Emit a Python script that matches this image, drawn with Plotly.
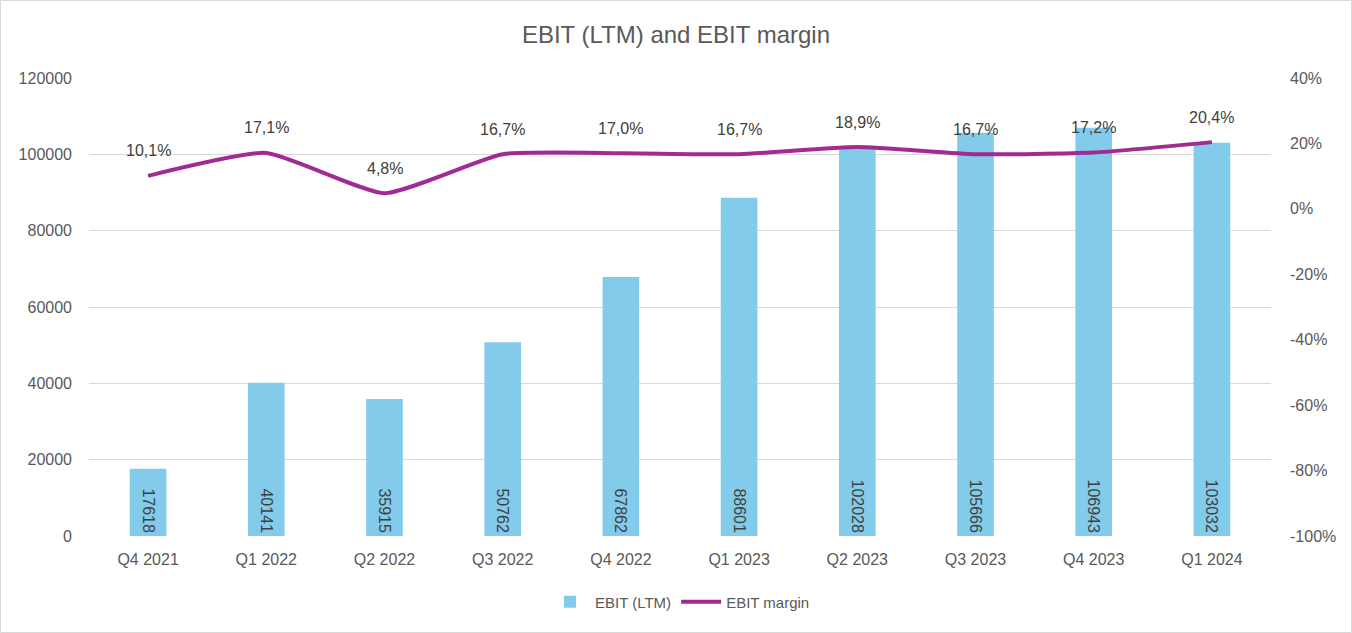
import plotly.graph_objects as go

quarters = ["Q4 2021", "Q1 2022", "Q2 2022", "Q3 2022", "Q4 2022",
            "Q1 2023", "Q2 2023", "Q3 2023", "Q4 2023", "Q1 2024"]
ebit_ltm = [17618, 40141, 35915, 50762, 67862, 88601, 102028, 105666, 106943, 103032]
ebit_margin = [10.1, 17.1, 4.8, 16.7, 17.0, 16.7, 18.9, 16.7, 17.2, 20.4]

left_ticks = [0, 20000, 40000, 60000, 80000, 100000, 120000]
right_ticks = [-100, -80, -60, -40, -20, 0, 20, 40]

FONT = "Liberation Sans, Arial, sans-serif"
GRAY = "#595959"
DARK = "#404040"
BAR_COLOR = "#83CBEB"
LINE_COLOR = "#A02B93"

margin_text = [f"{v:.1f}%".replace(".", ",") for v in ebit_margin]

fig = go.Figure()
fig.add_trace(go.Bar(
    x=quarters, y=ebit_ltm, name="EBIT (LTM)",
    marker=dict(color=BAR_COLOR, line=dict(width=0)),
    text=[str(v) for v in ebit_ltm], textposition="inside",
    insidetextanchor="start", textangle=90,
    textfont=dict(family=FONT, size=16, color=DARK),
    cliponaxis=False,
))
fig.add_trace(go.Scatter(
    x=quarters, y=ebit_margin, name="EBIT margin", yaxis="y2",
    mode="lines", line=dict(color=LINE_COLOR, width=4, shape="spline", smoothing=0.5),
))

annotations = []
for q, v, t in zip(quarters, ebit_margin, margin_text):
    annotations.append(dict(x=q, y=v, xref="x", yref="y2", text=t, showarrow=False,
                            yshift=25, font=dict(family=FONT, size=16, color=DARK)))

W, H = 1352, 633
L, R, T, B = 89, 81, 78, 97
w_plot = W - L - R
h_plot = H - T - B
shapes = [dict(type="rect", xref="paper", yref="paper",
               x0=-(L - 0.5) / w_plot, x1=(W - 0.5 - L) / w_plot,
               y0=-(B - 0.5) / h_plot, y1=1 + (T - 0.5) / h_plot,
               line=dict(color="#D9D9D9", width=1), fillcolor="rgba(0,0,0,0)", layer="below")]

fig.update_layout(
    width=W, height=H,
    margin=dict(l=L, r=R, t=T, b=B),
    paper_bgcolor="white", plot_bgcolor="white",
    title=dict(text="EBIT (LTM) and EBIT margin", x=0.5, xanchor="center", y=1 - 35 / H, yanchor="middle",
               font=dict(family=FONT, size=24, color=GRAY)),
    font=dict(family=FONT, size=16, color=GRAY),
    bargap=0.69,
    xaxis=dict(showgrid=False, showline=False, ticks="", ticklabelstandoff=12,
               tickfont=dict(size=16, color=GRAY)),
    yaxis=dict(range=[0, 120000], tickvals=left_ticks, ticktext=[str(v) for v in left_ticks],
               showgrid=True, gridcolor="#D9D9D9", gridwidth=1, zeroline=False,
               showline=False, ticks="", ticklabelstandoff=16, tickfont=dict(size=16, color=GRAY)),
    yaxis2=dict(range=[-100, 40], tickvals=right_ticks, ticktext=[f"{v}%" for v in right_ticks],
                overlaying="y", side="right", showgrid=False, zeroline=False, showline=False,
                ticks="", ticklabelstandoff=18, tickfont=dict(size=16, color=GRAY)),
    legend=dict(orientation="h", x=0.5, xanchor="center", y=-(602 - T - h_plot) / h_plot, yanchor="middle",
                font=dict(family=FONT, size=15, color=GRAY), itemwidth=40),
    annotations=annotations,
    shapes=shapes,
)

fig.write_html("out.html", config={"displayModeBar": False},
               post_script="document.body.style.margin='0';document.body.style.overflow='hidden';")
